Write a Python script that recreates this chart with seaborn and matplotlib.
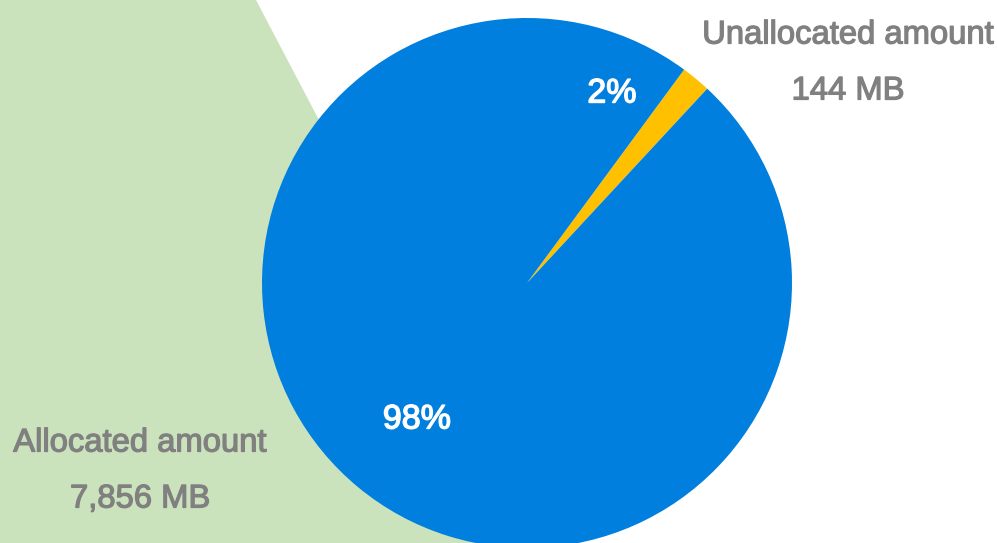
import matplotlib
matplotlib.use("Agg")
import matplotlib.pyplot as plt
import matplotlib.patheffects as pe
import seaborn as sns
from matplotlib.patches import Polygon

sns.set_style("white")
plt.rcParams['font.family'] = ['Liberation Sans', 'DejaVu Sans']

categories = ["Unallocated amount", "Allocated amount"]
values_mb = [144, 7856]
value_labels = ["144 MB", "7,856 MB"]
pct_labels = ["2%", "98%"]
colors = ["#FFC000", "#007FDE"]

W, H = 997, 543
fig = plt.figure(figsize=(W / 100, H / 100), dpi=100)
ax = fig.add_axes([0, 0, 1, 1])

# decorative green background shape
bg = Polygon([(0, H), (256, H), (541, 0), (0, 0)], closed=True,
             facecolor="#CBE3BD", edgecolor="none", zorder=0)
ax.add_patch(bg)

cx, cy, r = 527, H - 283, 265
total = sum(values_mb)
start = 50.4 - 360 * values_mb[0] / total / 2
wedges, _ = ax.pie(values_mb, colors=colors, startangle=start, counterclock=True,
                   center=(cx, cy), radius=r, frame=True,
                   wedgeprops=dict(linewidth=0, zorder=1))

ax.set_xlim(0, W)
ax.set_ylim(0, H)
ax.set_aspect("equal")
ax.axis("off")

gray = "#808080"
fs = 23.6
thick_gray = [pe.withStroke(linewidth=0.9, foreground=gray)]
thick_white = [pe.withStroke(linewidth=1.0, foreground="white")]

# percentage labels
ax.text(612, H - 94, pct_labels[0], color="white", fontsize=24.5,
        ha="center", va="center", zorder=3, path_effects=thick_white)
ax.text(417, H - 420, pct_labels[1], color="white", fontsize=24.5,
        ha="center", va="center", zorder=3, path_effects=thick_white)

# category labels
ax.text(848, H - 35, categories[0], color=gray, fontsize=fs, ha="center", va="center",
        zorder=3, path_effects=thick_gray)
ax.text(848, H - 91, value_labels[0], color=gray, fontsize=fs, ha="center", va="center",
        zorder=3, path_effects=thick_gray)
ax.text(140, H - 443, categories[1], color=gray, fontsize=fs, ha="center", va="center",
        zorder=3, path_effects=thick_gray)
ax.text(140, H - 499, value_labels[1], color=gray, fontsize=fs, ha="center", va="center",
        zorder=3, path_effects=thick_gray)

fig.savefig("out.png", dpi=100)
